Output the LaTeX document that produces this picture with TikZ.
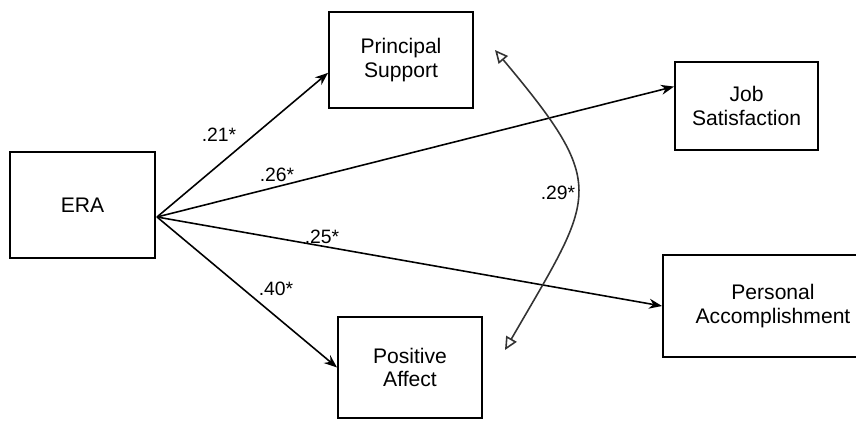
\documentclass[tikz,border=0pt]{standalone}
\usepackage{fontspec}
\setmainfont{Liberation Sans}
\usetikzlibrary{arrows.meta}

\begin{document}
\begin{tikzpicture}[
    scale=1.0,
    box/.style={draw, line width=1.1pt, align=center, inner sep=2pt,
                font=\fontsize{12}{13.5}\selectfont},
    effect/.style={-{Stealth[length=2.6mm, width=2mm]}, line width=0.9pt},
    covar/.style={{Triangle[open, length=2.6mm, width=2.4mm]}-{Triangle[open, length=2.6mm, width=2.4mm]},
                  line width=0.9pt, black!80},
    coef/.style={font=\fontsize{11}{12}\selectfont}
]

\useasboundingbox (0, 0) rectangle (17.12, 8.42);

% ── Variables ──
\node[box, minimum width=2.9cm, minimum height=2.12cm] (era) at (1.65, 4.32) {ERA};
\node[box, minimum width=2.88cm, minimum height=1.92cm] (principal) at (8.02, 7.22) {Principal\\Support};
\node[box, minimum width=2.86cm, minimum height=1.76cm] (job) at (14.93, 6.30) {Job\\Satisfaction};
\node[box, minimum width=4.4cm, minimum height=2.04cm] (personal) at (15.46, 2.30) {Personal\\Accomplishment};
\node[box, minimum width=2.88cm, minimum height=2.02cm] (positive) at (8.20, 1.07) {Positive\\Affect};

% ── Paths out of ERA ──
\coordinate (src) at (3.14, 4.08);
\draw[effect] (src) -- (principal.190);
\draw[effect] (src) -- (job.165);
\draw[effect] (src) -- (personal.west);
\draw[effect] (src) -- (positive.west);

% ── Path coefficients ──
\node[coef] (c21) at (4.38, 5.72) {.21*};
\node[coef] (c26) at (5.54, 4.92) {.26*};
\node[coef] (c25) at (6.44, 3.68) {.25*};
\node[coef] (c40) at (5.52, 2.64) {.40*};

% ── Covariance between mediators ──
\coordinate (covtop) at (9.90, 7.42);
\coordinate (covbot) at (10.10, 1.42);
\draw[covar] (covtop) .. controls +(-50:3.6) and +(60:3.6) .. (covbot);
\node[coef] (c29) at (11.16, 4.56) {.29*};

\end{tikzpicture}
\end{document}
